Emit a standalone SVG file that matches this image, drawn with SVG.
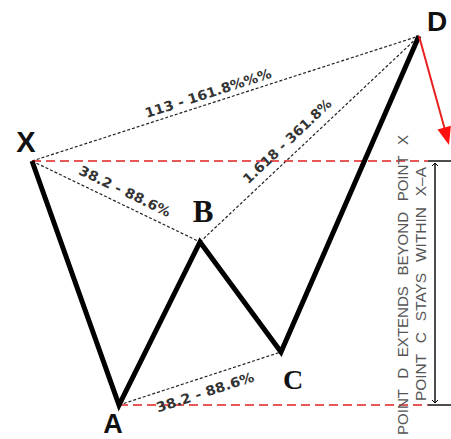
<svg xmlns="http://www.w3.org/2000/svg" width="451" height="439" viewBox="0 0 451 439">
<style>
.ratio{stroke:#222;stroke-width:1.2;stroke-dasharray:3,2;fill:none}
.red{stroke:#e02020;stroke-width:1.6;stroke-dasharray:9,5;fill:none}
.solid{stroke:#000;stroke-width:1.4;fill:none}
.lbl{font-family:"DejaVu Sans",sans-serif;font-weight:bold;font-size:13.5px;fill:#333;text-anchor:middle;dominant-baseline:central}
.pt{font-weight:bold;fill:#111;text-anchor:middle}
.sans{font-family:"Liberation Sans",Arial,sans-serif}
.serif{font-family:"Liberation Serif","Times New Roman",serif}
.note{font-family:"Liberation Sans",Arial,sans-serif;font-size:14px;fill:#555;text-anchor:middle;dominant-baseline:central}
</style>
<defs>
<marker id="tick" markerWidth="6" markerHeight="6" refX="3" refY="3" orient="auto-start-reverse" markerUnits="userSpaceOnUse">
<path d="M0,0 L3,3 L0,6" fill="none" stroke="#000" stroke-width="1"/>
</marker>
</defs>
<rect width="451" height="439" fill="#fff"/>
<g id="connectors">
<line class="ratio" x1="32" y1="161" x2="419" y2="36"/>
<line class="ratio" x1="32" y1="161" x2="200" y2="242"/>
<line class="ratio" x1="200" y1="242" x2="419" y2="36"/>
<line class="ratio" x1="119" y1="405" x2="281" y2="352"/>
<line class="red" x1="32" y1="161" x2="428" y2="161"/>
<line class="red" x1="119" y1="405" x2="428" y2="405"/>
<line class="solid" x1="428" y1="161" x2="451" y2="161"/>
<line class="solid" x1="428" y1="405" x2="451" y2="405"/>
<line class="solid" x1="435" y1="163" x2="435" y2="403" marker-start="url(#tick)" marker-end="url(#tick)"/>
<polyline points="32,161 119,405 200,242 281,352 419,36" fill="none" stroke="#000" stroke-width="5" stroke-linejoin="miter"/>
<line x1="419" y1="36" x2="445" y2="130" stroke="#e82020" stroke-width="2"/>
<polygon points="449,145 437.5,129.6 450.9,125.8" fill="#ff1010"/>
</g>
<g id="labels">
<text class="lbl" transform="translate(208,93) rotate(-17.9)" textLength="132" lengthAdjust="spacingAndGlyphs">113 - 161.8%%%</text>
<text class="lbl" transform="translate(125,191) rotate(25.7)" textLength="100" lengthAdjust="spacingAndGlyphs">38.2 - 88.6%</text>
<text class="lbl" transform="translate(287,141) rotate(-43.3)" textLength="116" lengthAdjust="spacingAndGlyphs">1.618 - 361.8%</text>
<text class="lbl" transform="translate(205,392) rotate(-18.1)" textLength="102" lengthAdjust="spacingAndGlyphs">38.2 - 88.6%</text>
</g>
<g id="node-X"><text class="pt sans" x="26" y="152" font-size="29">X</text></g>
<g id="node-A"><text class="pt sans" x="113" y="433" font-size="27">A</text></g>
<g id="node-B"><text class="pt serif" x="203" y="222" font-size="31">B</text></g>
<g id="node-C"><text class="pt serif" x="293" y="389" font-size="28">C</text></g>
<g id="node-D"><text class="pt sans" x="437" y="31" font-size="28">D</text></g>
<g id="notes">
<text class="note" transform="translate(403,285) rotate(-90)" textLength="300" lengthAdjust="spacingAndGlyphs" word-spacing="6">POINT D EXTENDS BEYOND POINT X</text>
<text class="note" transform="translate(421,284) rotate(-90)" textLength="234" lengthAdjust="spacingAndGlyphs" word-spacing="6">POINT C STAYS WITHIN X–A</text>
</g>
</svg>
